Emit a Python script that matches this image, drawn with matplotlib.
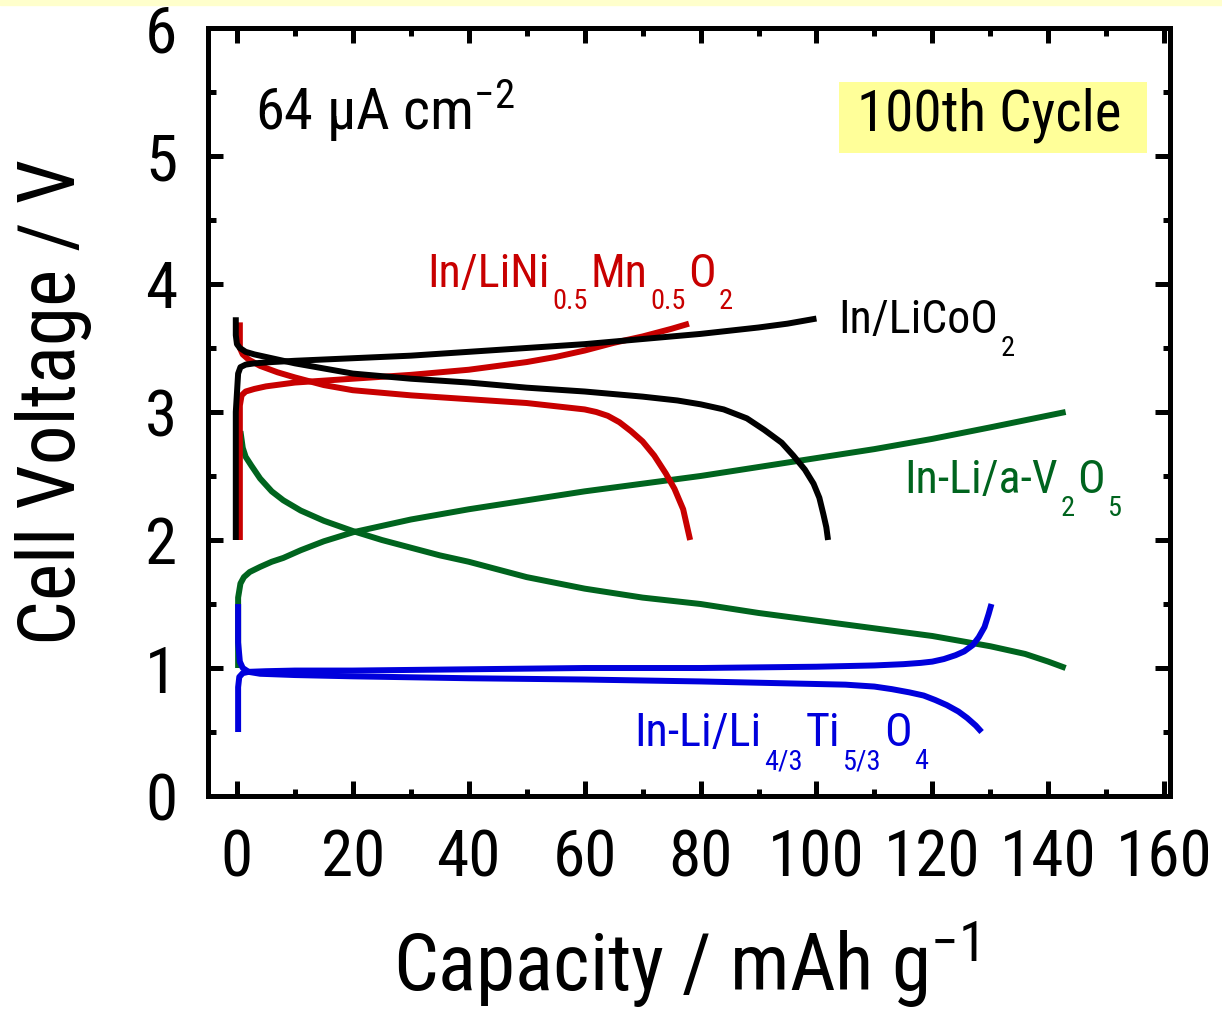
import numpy as np
import matplotlib
matplotlib.use('Agg')
import matplotlib.pyplot as plt
from matplotlib.ticker import MultipleLocator
from matplotlib.patches import Rectangle
from matplotlib.transforms import offset_copy

plt.rcParams['font.family'] = ['Roboto Condensed', 'DejaVu Sans']
plt.rcParams['font.stretch'] = 'condensed'
plt.rcParams['mathtext.default'] = 'regular'

# In/LiCoO2
lco_chg_x = [-0.2, -0.2, 0.2, 0.6, 1.5, 3, 6, 10, 20, 30, 40, 50, 60, 70, 80, 85, 90, 95, 100]
lco_chg_v = [2.0, 3.0, 3.30, 3.35, 3.37, 3.38, 3.39, 3.40, 3.42, 3.44, 3.47, 3.50, 3.53, 3.57, 3.61, 3.635,
             3.66, 3.69, 3.73]
lco_dis_x = [-0.2, -0.2, 0, 0.5, 1.5, 3, 6, 10, 15, 20, 30, 40, 50, 60, 70, 76, 80, 84, 88, 91, 94, 96, 98,
             99.5, 100.5, 101.2, 101.7, 102]
lco_dis_v = [3.74, 3.60, 3.53, 3.50, 3.47, 3.45, 3.42, 3.38, 3.34, 3.30, 3.26, 3.23, 3.19, 3.16, 3.12, 3.09,
             3.06, 3.02, 2.95, 2.86, 2.76, 2.66, 2.55, 2.44, 2.33, 2.20, 2.10, 2.0]

# In/LiNi0.5Mn0.5O2
lnm_chg_x = [0.5, 0.5, 0.8, 1.5, 3, 5, 10, 20, 30, 40, 45, 50, 55, 60, 65, 70, 75, 78]
lnm_chg_v = [2.0, 3.05, 3.13, 3.16, 3.18, 3.20, 3.23, 3.26, 3.29, 3.33, 3.36, 3.39, 3.43, 3.48, 3.54, 3.59,
             3.65, 3.69]
lnm_dis_x = [0.5, 0.5, 1, 2, 4, 7, 10, 15, 20, 30, 40, 50, 55, 60, 62, 64, 66, 68, 70, 72, 74, 75.5, 77, 78.2]
lnm_dis_v = [3.70, 3.50, 3.45, 3.41, 3.36, 3.31, 3.27, 3.21, 3.17, 3.13, 3.10, 3.07, 3.045, 3.02, 3.0, 2.97,
             2.92, 2.85, 2.77, 2.66, 2.52, 2.40, 2.24, 2.0]

# In-Li/a-V2O5
v2o5_chg_x = [0.2, 0.2, 0.6, 1.2, 2.2, 4, 6, 8, 11, 15, 20, 25, 30, 40, 50, 60, 70, 80, 90, 100, 110, 120,
              130, 143]
v2o5_chg_v = [1.0, 1.55, 1.66, 1.71, 1.75, 1.79, 1.83, 1.86, 1.92, 1.99, 2.06, 2.11, 2.16, 2.24, 2.31, 2.38,
              2.44, 2.50, 2.57, 2.64, 2.71, 2.79, 2.88, 3.0]
v2o5_dis_x = [0.6, 1, 1.5, 2.5, 4, 6, 8, 11, 15, 20, 25, 30, 35, 40, 50, 60, 70, 80, 90, 100, 110, 120, 130,
              136, 140, 143]
v2o5_dis_v = [2.85, 2.72, 2.65, 2.58, 2.48, 2.38, 2.31, 2.23, 2.15, 2.07, 2.0, 1.94, 1.88, 1.83, 1.71, 1.62,
              1.55, 1.50, 1.43, 1.37, 1.31, 1.25, 1.17, 1.11, 1.05, 1.0]

# In-Li/Li4/3Ti5/3O4
lto_chg_x = [0.2, 0.2, 0.4, 1, 2, 5, 10, 20, 40, 60, 80, 100, 110, 115, 118, 120, 122, 124, 125.5, 127, 128,
             129, 129.7, 130.2]
lto_chg_v = [0.5, 0.85, 0.93, 0.96, 0.97, 0.975, 0.98, 0.98, 0.99, 1.0, 1.0, 1.01, 1.02, 1.03, 1.04, 1.05,
             1.07, 1.10, 1.13, 1.18, 1.24, 1.32, 1.42, 1.5]
lto_dis_x = [0.2, 0.2, 0.5, 1, 2, 4, 10, 20, 40, 60, 80, 100, 105, 110, 113, 116, 118.5, 120.5, 122.5, 124.5,
             126, 127.5, 128.5]
lto_dis_v = [1.5, 1.2, 1.05, 1.0, 0.97, 0.955, 0.945, 0.935, 0.92, 0.91, 0.895, 0.875, 0.87, 0.855, 0.835,
             0.81, 0.785, 0.75, 0.71, 0.66, 0.61, 0.55, 0.5]

# label texts, split into (text, is_subscript) pieces
lnm_label = [('In/LiNi', 0), ('0.5', 1), ('Mn', 0), ('0.5', 1), ('O', 0), ('2', 1)]
lco_label = [('In/LiCoO', 0), ('2', 1)]
v2o5_label = [('In-Li/a-V', 0), ('2', 1), ('O', 0), ('5', 1)]
lto_label = [('In-Li/Li', 0), ('4/3', 1), ('Ti', 0), ('5/3', 1), ('O', 0), ('4', 1)]

black = 'black'
red = '#c80000'
green = '#00641e'
blue = '#0000dc'

fig = plt.figure(figsize=(12.22, 10.13), dpi=100)
ax = fig.add_axes([0.1702, 0.2142, 0.7872, 0.7582])
renderer = fig.canvas.get_renderer()

# faint yellow strip along top edge
fig.patches.append(Rectangle((0, 0.995), 1, 0.005, transform=fig.transFigure,
                             color='#ffffcc', zorder=0))

lw = 4.3
kw = dict(lw=lw, solid_capstyle='butt', solid_joinstyle='round')
ax.plot(v2o5_chg_x, v2o5_chg_v, color=green, **kw)
ax.plot(v2o5_dis_x, v2o5_dis_v, color=green, **kw)
ax.plot(lto_chg_x, lto_chg_v, color=blue, **kw)
ax.plot(lto_dis_x, lto_dis_v, color=blue, **kw)
ax.plot(lnm_chg_x, lnm_chg_v, color=red, **kw)
ax.plot(lnm_dis_x, lnm_dis_v, color=red, **kw)
ax.plot(lco_chg_x, lco_chg_v, color=black, **kw)
ax.plot(lco_dis_x, lco_dis_v, color=black, **kw)

ax.set_xlim(-5, 161)
ax.set_ylim(0, 6)
ax.xaxis.set_major_locator(MultipleLocator(20))
ax.xaxis.set_minor_locator(MultipleLocator(10))
ax.yaxis.set_major_locator(MultipleLocator(1))
ax.yaxis.set_minor_locator(MultipleLocator(0.5))

for s in ax.spines.values():
    s.set_linewidth(3.6)
ax.tick_params(which='both', direction='in', top=True, right=True, width=3.6)
ax.tick_params(which='major', length=10.8, labelsize=47)
ax.tick_params(axis='x', which='major', pad=23)
ax.tick_params(axis='y', which='major', pad=22)
ax.tick_params(which='minor', length=5.4)

ax.set_xlabel('Capacity / mAh g$^{-1}$', fontsize=57, va='baseline')
ax.xaxis.set_label_coords(0.496, -0.254)
ax.set_ylabel('Cell Voltage / V', fontsize=57, va='baseline')
ax.yaxis.set_label_coords(-0.138, 0.513)

ax.text(3.1, 5.2, '64 \u00b5A cm$^{-2}$', fontsize=42, va='baseline')
ax.add_patch(Rectangle((0.656, 0.837), 0.320, 0.093, transform=ax.transAxes,
                       facecolor='#ffff99', edgecolor='none', zorder=1))
ax.text(0.675, 0.867, '100th Cycle', transform=ax.transAxes, fontsize=41, va='baseline', zorder=2)


def formula(x, y, parts, color, size=33):
    # chemical formula with deep subscripts, pieces laid out left to right
    dx = 0.0
    for s, sub in parts:
        fs = size * 0.62 if sub else size
        dy = -0.5 * size if sub else 0.0
        tr = offset_copy(ax.transData, fig=fig, x=dx, y=dy, units='points')
        t = ax.text(x, y, s, color=color, fontsize=fs, va='baseline', transform=tr)
        dx += t.get_window_extent(renderer).width * 72.0 / fig.dpi + 0.06 * size


formula(32.8, 3.98, lnm_label, red)
formula(103.8, 3.62, lco_label, black)
formula(115.1, 2.37, v2o5_label, green)
formula(68.6, 0.39, lto_label, blue)

fig.savefig('out.png', dpi=100)
